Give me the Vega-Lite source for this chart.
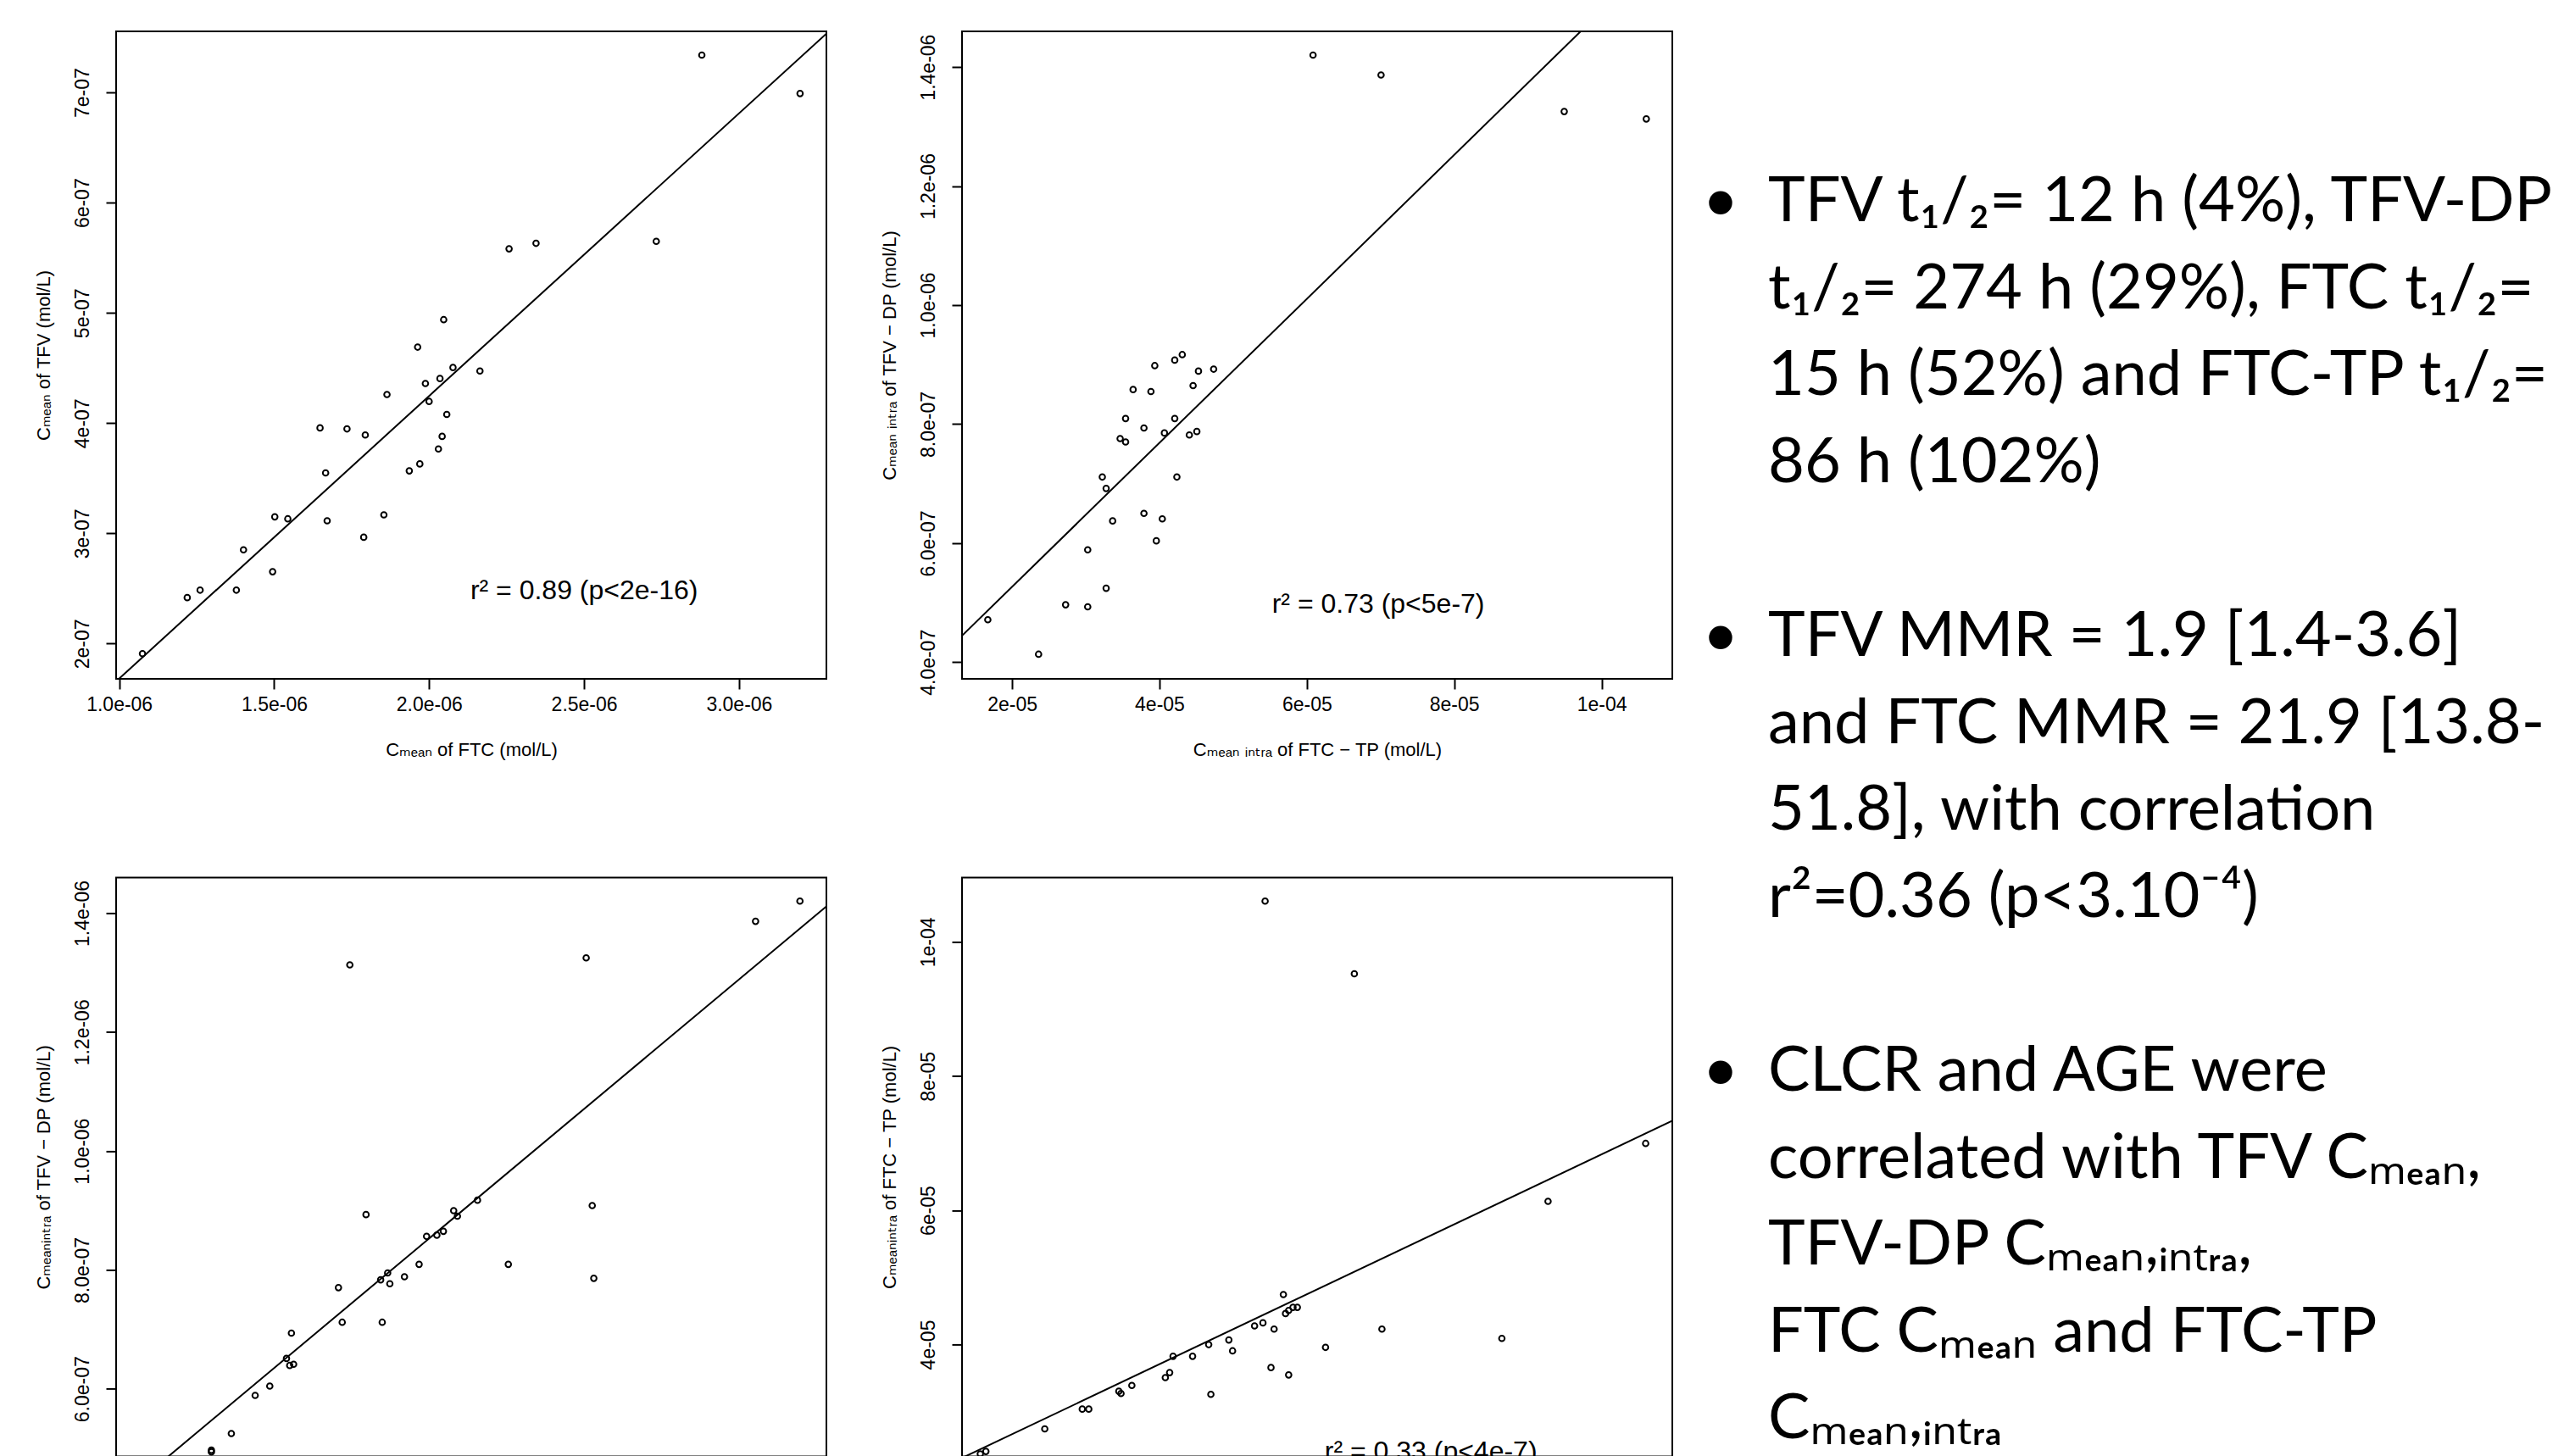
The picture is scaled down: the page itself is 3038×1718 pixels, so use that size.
{
  "$schema": "https://vega.github.io/schema/vega-lite/v6.json",
  "background": "white",
  "padding": {"left": 39, "top": 36, "right": 0, "bottom": 0},
  "bounds": "flush",
  "columns": 3,
  "spacing": {"row": 234.4, "column": 160},
  "config": {
    "view": {"stroke": "black", "strokeWidth": 2},
    "axis": {
      "labelFont": "Liberation Sans, Arial, DejaVu Sans",
      "titleFont": "Liberation Sans, Arial, DejaVu Sans",
      "labelFontSize": 23,
      "titleFontSize": 22,
      "titleFontWeight": "normal",
      "labelColor": "#000000",
      "titleColor": "#000000",
      "tickColor": "#000000",
      "tickSize": 12,
      "tickWidth": 2,
      "domain": false,
      "grid": false,
      "labelOverlap": false,
      "labelFlush": false
    },
    "axisY": {"labelAngle": -90, "labelAlign": "center", "labelBaseline": "alphabetic", "labelPadding": 21, "titlePadding": 28, "titleBaseline": "alphabetic"},
    "axisX": {"labelPadding": 7, "titlePadding": 31}
  },
  "datasets": {
    "p1": [
      {"x": 1.075e-6, "y": 1.909e-7}, {"x": 1.2195e-6, "y": 2.417e-7}, {"x": 1.261e-6, "y": 2.485e-7},
      {"x": 1.378e-6, "y": 2.485e-7}, {"x": 1.401e-6, "y": 2.851e-7}, {"x": 1.495e-6, "y": 2.652e-7},
      {"x": 1.502e-6, "y": 3.150e-7}, {"x": 1.544e-6, "y": 3.132e-7}, {"x": 1.648e-6, "y": 3.957e-7},
      {"x": 1.666e-6, "y": 3.549e-7}, {"x": 1.671e-6, "y": 3.114e-7}, {"x": 1.735e-6, "y": 3.948e-7},
      {"x": 1.789e-6, "y": 2.965e-7}, {"x": 1.794e-6, "y": 3.893e-7}, {"x": 1.854e-6, "y": 3.168e-7},
      {"x": 1.864e-6, "y": 4.260e-7}, {"x": 1.936e-6, "y": 3.567e-7}, {"x": 1.963e-6, "y": 4.690e-7},
      {"x": 1.970e-6, "y": 3.630e-7}, {"x": 1.988e-6, "y": 4.360e-7}, {"x": 2.000e-6, "y": 4.197e-7},
      {"x": 2.030e-6, "y": 3.766e-7}, {"x": 2.035e-6, "y": 4.405e-7}, {"x": 2.042e-6, "y": 3.880e-7},
      {"x": 2.047e-6, "y": 4.939e-7}, {"x": 2.057e-6, "y": 4.079e-7}, {"x": 2.077e-6, "y": 4.505e-7},
      {"x": 2.164e-6, "y": 4.473e-7}, {"x": 2.258e-6, "y": 5.582e-7}, {"x": 2.345e-6, "y": 5.632e-7},
      {"x": 2.733e-6, "y": 5.650e-7}, {"x": 2.880e-6, "y": 7.340e-7}, {"x": 3.197e-6, "y": 6.991e-7}
    ],
    "p1line": [{"x": 0.99e-6, "y": 1.657e-7}, {"x": 3.282e-6, "y": 7.534e-7}],
    "p1r2": [{"x": 2.133e-6, "y": 2.40e-7, "label": "r² = 0.89 (p<2e-16)"}],
    "p2": [
      {"x": 1.670e-5, "y": 4.713e-7}, {"x": 2.359e-5, "y": 4.134e-7}, {"x": 2.726e-5, "y": 4.965e-7},
      {"x": 3.026e-5, "y": 5.888e-7}, {"x": 3.026e-5, "y": 4.931e-7}, {"x": 3.224e-5, "y": 7.112e-7},
      {"x": 3.276e-5, "y": 6.919e-7}, {"x": 3.276e-5, "y": 5.242e-7}, {"x": 3.364e-5, "y": 6.374e-7},
      {"x": 3.466e-5, "y": 7.758e-7}, {"x": 3.540e-5, "y": 8.094e-7}, {"x": 3.540e-5, "y": 7.700e-7},
      {"x": 3.642e-5, "y": 8.581e-7}, {"x": 3.789e-5, "y": 7.935e-7}, {"x": 3.789e-5, "y": 6.500e-7},
      {"x": 3.884e-5, "y": 8.547e-7}, {"x": 3.936e-5, "y": 8.983e-7}, {"x": 3.957e-5, "y": 6.039e-7},
      {"x": 4.038e-5, "y": 6.408e-7}, {"x": 4.067e-5, "y": 7.851e-7}, {"x": 4.207e-5, "y": 9.076e-7},
      {"x": 4.207e-5, "y": 8.094e-7}, {"x": 4.236e-5, "y": 7.112e-7}, {"x": 4.309e-5, "y": 9.168e-7},
      {"x": 4.405e-5, "y": 7.817e-7}, {"x": 4.456e-5, "y": 8.648e-7}, {"x": 4.507e-5, "y": 7.876e-7},
      {"x": 4.529e-5, "y": 8.891e-7}, {"x": 4.735e-5, "y": 8.924e-7}, {"x": 6.084e-5, "y": 1.4201e-6},
      {"x": 7.007e-5, "y": 1.3866e-6}, {"x": 9.493e-5, "y": 1.3253e-6}, {"x": 1.0607e-4, "y": 1.3128e-6}
    ],
    "p2line": [{"x": 1.32e-5, "y": 4.445e-7}, {"x": 1.096e-4, "y": 1.6104e-6}],
    "p2r2": [{"x": 5.527e-5, "y": 4.83e-7, "label": "r² = 0.73 (p<5e-7)"}],
    "p3": [
      {"x": 3.613e-7, "y": 1.3130e-6}, {"x": 5.568e-7, "y": 1.3248e-6}, {"x": 6.969e-7, "y": 1.3863e-6},
      {"x": 7.336e-7, "y": 1.4203e-6}, {"x": 3.747e-7, "y": 8.931e-7}, {"x": 5.618e-7, "y": 9.082e-7},
      {"x": 4.472e-7, "y": 8.997e-7}, {"x": 4.503e-7, "y": 8.905e-7}, {"x": 4.669e-7, "y": 9.173e-7},
      {"x": 4.387e-7, "y": 8.650e-7}, {"x": 4.333e-7, "y": 8.585e-7}, {"x": 4.248e-7, "y": 8.565e-7},
      {"x": 4.186e-7, "y": 8.094e-7}, {"x": 4.924e-7, "y": 8.094e-7}, {"x": 3.926e-7, "y": 7.950e-7},
      {"x": 3.868e-7, "y": 7.833e-7}, {"x": 4.065e-7, "y": 7.885e-7}, {"x": 3.944e-7, "y": 7.767e-7},
      {"x": 5.631e-7, "y": 7.859e-7}, {"x": 3.519e-7, "y": 7.702e-7}, {"x": 3.550e-7, "y": 7.120e-7},
      {"x": 3.881e-7, "y": 7.120e-7}, {"x": 3.130e-7, "y": 6.937e-7}, {"x": 3.089e-7, "y": 6.511e-7},
      {"x": 3.116e-7, "y": 6.394e-7}, {"x": 3.148e-7, "y": 6.413e-7}, {"x": 2.951e-7, "y": 6.047e-7},
      {"x": 2.830e-7, "y": 5.890e-7}, {"x": 2.633e-7, "y": 5.249e-7}, {"x": 2.468e-7, "y": 4.968e-7},
      {"x": 2.468e-7, "y": 4.940e-7}
    ],
    "p3line": [{"x": 1.68e-7, "y": 4.129e-7}, {"x": 7.555e-7, "y": 1.4114e-6}],
    "p4": [
      {"x": 1.968e-6, "y": 1.0608e-4}, {"x": 2.256e-6, "y": 9.525e-5}, {"x": 3.196e-6, "y": 6.997e-5},
      {"x": 2.881e-6, "y": 6.134e-5}, {"x": 2.027e-6, "y": 4.745e-5}, {"x": 2.034e-6, "y": 4.462e-5},
      {"x": 2.044e-6, "y": 4.508e-5}, {"x": 2.058e-6, "y": 4.554e-5}, {"x": 2.072e-6, "y": 4.554e-5},
      {"x": 1.934e-6, "y": 4.277e-5}, {"x": 1.961e-6, "y": 4.323e-5}, {"x": 1.997e-6, "y": 4.230e-5},
      {"x": 2.345e-6, "y": 4.230e-5}, {"x": 2.732e-6, "y": 4.091e-5}, {"x": 1.851e-6, "y": 4.068e-5},
      {"x": 1.863e-6, "y": 3.906e-5}, {"x": 1.786e-6, "y": 3.999e-5}, {"x": 2.163e-6, "y": 3.958e-5},
      {"x": 1.734e-6, "y": 3.825e-5}, {"x": 1.671e-6, "y": 3.825e-5}, {"x": 1.987e-6, "y": 3.657e-5},
      {"x": 2.044e-6, "y": 3.547e-5}, {"x": 1.660e-6, "y": 3.582e-5}, {"x": 1.646e-6, "y": 3.507e-5},
      {"x": 1.793e-6, "y": 3.258e-5}, {"x": 1.538e-6, "y": 3.391e-5}, {"x": 1.496e-6, "y": 3.304e-5},
      {"x": 1.503e-6, "y": 3.270e-5}, {"x": 1.378e-6, "y": 3.038e-5}, {"x": 1.399e-6, "y": 3.038e-5},
      {"x": 1.257e-6, "y": 2.743e-5}, {"x": 1.067e-6, "y": 2.407e-5}, {"x": 1.049e-6, "y": 2.370e-5}
    ],
    "p4line": [{"x": 0.99e-6, "y": 2.31e-5}, {"x": 3.282e-6, "y": 7.334e-5}],
    "p4r2": [{"x": 2.160e-6, "y": 2.27e-5, "label": "r² = 0.33 (p<4e-7)"}],
    "notes": [
      {"row": 0, "bullet": true, "text": "TFV t₁/₂= 12 h (4%), TFV-DP"},
      {"row": 1, "bullet": false, "text": "t₁/₂= 274 h (29%), FTC t₁/₂="},
      {"row": 2, "bullet": false, "text": "15 h (52%) and FTC-TP t₁/₂="},
      {"row": 3, "bullet": false, "text": "86 h (102%)"},
      {"row": 5, "bullet": true, "text": "TFV MMR = 1.9 [1.4-3.6]"},
      {"row": 6, "bullet": false, "text": "and FTC MMR = 21.9 [13.8-"},
      {"row": 7, "bullet": false, "text": "51.8], with correlation"},
      {"row": 8, "bullet": false, "text": "r²=0.36 (p<3.10⁻⁴)"},
      {"row": 10, "bullet": true, "text": "CLCR and AGE were"},
      {"row": 11, "bullet": false, "text": "correlated with TFV Cₘₑₐₙ,"},
      {"row": 12, "bullet": false, "text": "TFV-DP Cₘₑₐₙ,ᵢₙₜᵣₐ,"},
      {"row": 13, "bullet": false, "text": "FTC Cₘₑₐₙ and FTC-TP"},
      {"row": 14, "bullet": false, "text": "Cₘₑₐₙ,ᵢₙₜᵣₐ"}
    ]
  },
  "concat": [
    {
      "width": 838, "height": 764,
      "layer": [
        {
          "data": {"name": "p1"},
          "mark": {"type": "point", "shape": "circle", "filled": false, "color": "black", "size": 44, "strokeWidth": 2, "opacity": 1, "clip": true},
          "encoding": {
            "x": {"field": "x", "type": "quantitative", "scale": {"domain": [0.99e-6, 3.282e-6], "nice": false, "zero": false},
                  "axis": {"values": [1e-6, 1.5e-6, 2e-6, 2.5e-6, 3e-6], "labelExpr": "format(datum.value*1e6,'.1f') + 'e-06'", "title": "Cₘₑₐₙ of FTC (mol/L)"}},
            "y": {"field": "y", "type": "quantitative", "scale": {"domain": [1.68e-7, 7.555e-7], "nice": false, "zero": false},
                  "axis": {"values": [2e-7, 3e-7, 4e-7, 5e-7, 6e-7, 7e-7], "labelExpr": "format(datum.value*1e7,'.0f') + 'e-07'", "title": "Cₘₑₐₙ of TFV (mol/L)"}}
          }
        },
        {
          "data": {"name": "p1line"},
          "mark": {"type": "line", "color": "black", "strokeWidth": 2, "clip": true},
          "encoding": {
            "x": {"field": "x", "type": "quantitative", "scale": {"domain": [0.99e-6, 3.282e-6], "nice": false, "zero": false}},
            "y": {"field": "y", "type": "quantitative", "scale": {"domain": [1.68e-7, 7.555e-7], "nice": false, "zero": false}}
          }
        },
        {
          "data": {"name": "p1r2"},
          "mark": {"type": "text", "align": "left", "baseline": "alphabetic", "font": "Liberation Sans, Arial, DejaVu Sans", "fontSize": 32, "color": "black", "clip": true},
          "encoding": {
            "x": {"field": "x", "type": "quantitative", "scale": {"domain": [0.99e-6, 3.282e-6], "nice": false, "zero": false}},
            "y": {"field": "y", "type": "quantitative", "scale": {"domain": [1.68e-7, 7.555e-7], "nice": false, "zero": false}},
            "text": {"field": "label"}
          }
        }
      ]
    },
    {
      "width": 838, "height": 764,
      "layer": [
        {
          "data": {"name": "p2"},
          "mark": {"type": "point", "shape": "circle", "filled": false, "color": "black", "size": 44, "strokeWidth": 2, "opacity": 1, "clip": true},
          "encoding": {
            "x": {"field": "x", "type": "quantitative", "scale": {"domain": [1.32e-5, 1.096e-4], "nice": false, "zero": false},
                  "axis": {"values": [2e-5, 4e-5, 6e-5, 8e-5, 1e-4], "labelExpr": "datum.value >= 9.9e-5 ? '1e-04' : format(datum.value*1e5,'.0f') + 'e-05'", "title": "Cₘₑₐₙ ᵢₙₜᵣₐ of FTC − TP (mol/L)"}},
            "y": {"field": "y", "type": "quantitative", "scale": {"domain": [3.72e-7, 1.46e-6], "nice": false, "zero": false},
                  "axis": {"values": [4e-7, 6e-7, 8e-7, 1e-6, 1.2e-6, 1.4e-6], "labelExpr": "datum.value >= 9.9e-7 ? format(datum.value*1e6,'.1f') + 'e-06' : format(datum.value*1e7,'.1f') + 'e-07'", "title": "Cₘₑₐₙ ᵢₙₜᵣₐ of TFV − DP (mol/L)"}}
          }
        },
        {
          "data": {"name": "p2line"},
          "mark": {"type": "line", "color": "black", "strokeWidth": 2, "clip": true},
          "encoding": {
            "x": {"field": "x", "type": "quantitative", "scale": {"domain": [1.32e-5, 1.096e-4], "nice": false, "zero": false}},
            "y": {"field": "y", "type": "quantitative", "scale": {"domain": [3.72e-7, 1.46e-6], "nice": false, "zero": false}}
          }
        },
        {
          "data": {"name": "p2r2"},
          "mark": {"type": "text", "align": "left", "baseline": "alphabetic", "font": "Liberation Sans, Arial, DejaVu Sans", "fontSize": 32, "color": "black", "clip": true},
          "encoding": {
            "x": {"field": "x", "type": "quantitative", "scale": {"domain": [1.32e-5, 1.096e-4], "nice": false, "zero": false}},
            "y": {"field": "y", "type": "quantitative", "scale": {"domain": [3.72e-7, 1.46e-6], "nice": false, "zero": false}},
            "text": {"field": "label"}
          }
        }
      ]
    },
    {
      "width": 905, "height": 764,
      "view": {"stroke": null},
      "data": {"name": "notes"},
      "transform": [{"filter": "datum.row <= 8"}],
      "layer": [
        {
          "transform": [{"filter": "datum.bullet"}],
          "mark": {"type": "text", "align": "center", "baseline": "alphabetic", "dx": -103, "font": "Lato, Noto Sans, DejaVu Sans", "fontSize": 74, "color": "black"},
          "encoding": {
            "x": {"datum": 0, "type": "quantitative", "scale": {"domain": [0, 1], "nice": false, "zero": false}, "axis": null},
            "y": {"field": "row", "type": "quantitative", "scale": {"domain": [-2.183, 5.263], "reverse": true, "nice": false, "zero": false}, "axis": null},
            "text": {"value": "•"}
          }
        },
        {
          "mark": {"type": "text", "align": "left", "baseline": "alphabetic", "dx": -47, "font": "Lato, Noto Sans, DejaVu Sans", "fontSize": 74, "color": "black"},
          "encoding": {
            "x": {"datum": 0, "type": "quantitative", "scale": {"domain": [0, 1], "nice": false, "zero": false}, "axis": null},
            "y": {"field": "row", "type": "quantitative", "scale": {"domain": [-2.183, 5.263], "reverse": true, "nice": false, "zero": false}, "axis": null},
            "text": {"field": "text"}
          }
        }
      ]
    },
    {
      "width": 838, "height": 683,
      "layer": [
        {
          "data": {"name": "p3"},
          "mark": {"type": "point", "shape": "circle", "filled": false, "color": "black", "size": 44, "strokeWidth": 2, "opacity": 1, "clip": true},
          "encoding": {
            "x": {"field": "x", "type": "quantitative", "scale": {"domain": [1.68e-7, 7.555e-7], "nice": false, "zero": false}, "axis": null},
            "y": {"field": "y", "type": "quantitative", "scale": {"domain": [4.865e-7, 1.46e-6], "nice": false, "zero": false},
                  "axis": {"values": [6e-7, 8e-7, 1e-6, 1.2e-6, 1.4e-6], "labelExpr": "datum.value >= 9.9e-7 ? format(datum.value*1e6,'.1f') + 'e-06' : format(datum.value*1e7,'.1f') + 'e-07'", "title": "Cₘₑₐₙᵢₙₜᵣₐ of TFV − DP (mol/L)"}}
          }
        },
        {
          "data": {"name": "p3line"},
          "mark": {"type": "line", "color": "black", "strokeWidth": 2, "clip": true},
          "encoding": {
            "x": {"field": "x", "type": "quantitative", "scale": {"domain": [1.68e-7, 7.555e-7], "nice": false, "zero": false}},
            "y": {"field": "y", "type": "quantitative", "scale": {"domain": [4.865e-7, 1.46e-6], "nice": false, "zero": false}}
          }
        }
      ]
    },
    {
      "width": 838, "height": 683,
      "layer": [
        {
          "data": {"name": "p4"},
          "mark": {"type": "point", "shape": "circle", "filled": false, "color": "black", "size": 44, "strokeWidth": 2, "opacity": 1, "clip": true},
          "encoding": {
            "x": {"field": "x", "type": "quantitative", "scale": {"domain": [0.99e-6, 3.282e-6], "nice": false, "zero": false}, "axis": null},
            "y": {"field": "y", "type": "quantitative", "scale": {"domain": [2.334e-5, 1.096e-4], "nice": false, "zero": false},
                  "axis": {"values": [4e-5, 6e-5, 8e-5, 1e-4], "labelExpr": "datum.value >= 9.9e-5 ? '1e-04' : format(datum.value*1e5,'.0f') + 'e-05'", "title": "Cₘₑₐₙᵢₙₜᵣₐ of FTC − TP (mol/L)"}}
          }
        },
        {
          "data": {"name": "p4line"},
          "mark": {"type": "line", "color": "black", "strokeWidth": 2, "clip": true},
          "encoding": {
            "x": {"field": "x", "type": "quantitative", "scale": {"domain": [0.99e-6, 3.282e-6], "nice": false, "zero": false}},
            "y": {"field": "y", "type": "quantitative", "scale": {"domain": [2.334e-5, 1.096e-4], "nice": false, "zero": false}}
          }
        },
        {
          "data": {"name": "p4r2"},
          "mark": {"type": "text", "align": "left", "baseline": "alphabetic", "font": "Liberation Sans, Arial, DejaVu Sans", "fontSize": 32, "color": "black", "clip": true},
          "encoding": {
            "x": {"field": "x", "type": "quantitative", "scale": {"domain": [0.99e-6, 3.282e-6], "nice": false, "zero": false}},
            "y": {"field": "y", "type": "quantitative", "scale": {"domain": [2.334e-5, 1.096e-4], "nice": false, "zero": false}},
            "text": {"field": "label"}
          }
        }
      ]
    },
    {
      "width": 905, "height": 683,
      "view": {"stroke": null},
      "data": {"name": "notes"},
      "transform": [{"filter": "datum.row >= 10"}],
      "layer": [
        {
          "transform": [{"filter": "datum.bullet"}],
          "mark": {"type": "text", "align": "center", "baseline": "alphabetic", "dx": -103, "font": "Lato, Noto Sans, DejaVu Sans", "fontSize": 74, "color": "black"},
          "encoding": {
            "x": {"datum": 0, "type": "quantitative", "scale": {"domain": [0, 1], "nice": false, "zero": false}, "axis": null},
            "y": {"field": "row", "type": "quantitative", "scale": {"domain": [7.548, 14.205], "reverse": true, "nice": false, "zero": false}, "axis": null},
            "text": {"value": "•"}
          }
        },
        {
          "mark": {"type": "text", "align": "left", "baseline": "alphabetic", "dx": -47, "font": "Lato, Noto Sans, DejaVu Sans", "fontSize": 74, "color": "black"},
          "encoding": {
            "x": {"datum": 0, "type": "quantitative", "scale": {"domain": [0, 1], "nice": false, "zero": false}, "axis": null},
            "y": {"field": "row", "type": "quantitative", "scale": {"domain": [7.548, 14.205], "reverse": true, "nice": false, "zero": false}, "axis": null},
            "text": {"field": "text"}
          }
        }
      ]
    }
  ]
}
